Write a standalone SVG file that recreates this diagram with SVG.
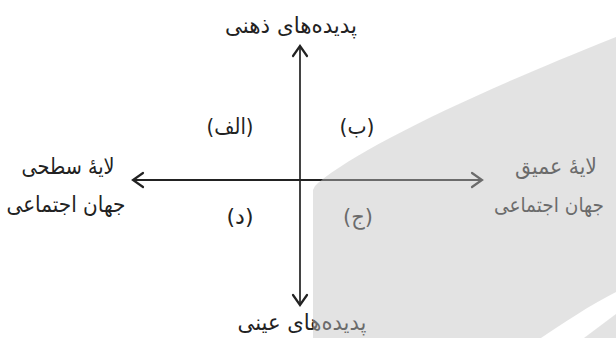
<svg xmlns="http://www.w3.org/2000/svg" width="616" height="338" viewBox="0 0 616 338">
<defs>
<style>
.lbl{font-family:"DejaVu Sans",sans-serif;font-size:22px;fill:#222;text-anchor:middle}
.ax{stroke:#222;fill:none}
.head{stroke:#222;stroke-width:2.2;fill:none;stroke-linecap:round;stroke-linejoin:miter}
.shade{fill:#c2c2c2;fill-opacity:0.46}
</style>
</defs>
<rect width="616" height="338" fill="#fff"/>
<g id="connectors">
<line class="ax" x1="300" y1="47" x2="300" y2="305" stroke-width="1.7"/>
<line class="ax" x1="133" y1="180" x2="482" y2="180" stroke-width="2.2"/>
<polyline class="head" points="293,56 300,46 307,56"/>
<polyline class="head" points="293,295 300,305 307,295"/>
<polyline class="head" points="143,173 133,180 143,187"/>
<polyline class="head" points="472,173 482,180 472,187"/>
</g>
<g id="top"><text class="lbl" x="291" y="33" textLength="132" lengthAdjust="spacingAndGlyphs">پدیده&#8204;های ذهنی</text></g>
<g id="bottom"><text class="lbl" x="302" y="330" textLength="129" lengthAdjust="spacingAndGlyphs">پدیده&#8204;های عینی</text></g>
<g id="left"><text class="lbl" x="68" y="174" textLength="93" lengthAdjust="spacingAndGlyphs">لایهٔ سطحی</text><text class="lbl" x="66" y="212" textLength="119" lengthAdjust="spacingAndGlyphs">جهان اجتماعی</text></g>
<g id="right"><text class="lbl" x="556" y="174" textLength="82" lengthAdjust="spacingAndGlyphs">لایهٔ عمیق</text><text class="lbl" x="549" y="212" style="font-size:20px" textLength="110" lengthAdjust="spacingAndGlyphs">جهان اجتماعی</text></g>
<g id="q-alef"><text class="lbl" x="230" y="134" textLength="47" lengthAdjust="spacingAndGlyphs">(الف)</text></g>
<g id="q-be"><text class="lbl" x="357" y="134" textLength="35" lengthAdjust="spacingAndGlyphs">(ب)</text></g>
<g id="q-dal"><text class="lbl" x="240" y="224" textLength="27" lengthAdjust="spacingAndGlyphs">(د)</text></g>
<g id="q-jim"><text class="lbl" x="358" y="224" textLength="30" lengthAdjust="spacingAndGlyphs">(ج)</text></g>
<g id="shade">
<path class="shade" d="M313,338 L313,190 Q314,186 318,183 C360,148 470,95 616,37 L616,292 C590,305 562,324 541,338 Z"/>
<path class="shade" d="M584,338 L616,314 L616,338 Z"/>
</g>
</svg>
